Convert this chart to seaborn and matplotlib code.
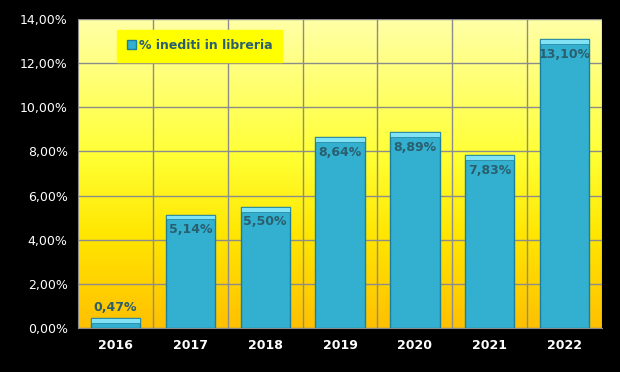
import numpy as np
import pandas as pd
import matplotlib
matplotlib.use("Agg")
import matplotlib.pyplot as plt
import seaborn as sns
from matplotlib.colors import LinearSegmentedColormap
from matplotlib.ticker import FuncFormatter, MultipleLocator

# === Dati ===
anni = ["2016", "2017", "2018", "2019", "2020", "2021", "2022"]
percentuali = [0.47, 5.14, 5.50, 8.64, 8.89, 7.83, 13.10]
etichette = ["0,47%", "5,14%", "5,50%", "8,64%", "8,89%", "7,83%", "13,10%"]
serie = "% inediti in libreria"

df = pd.DataFrame({"Anno": anni, "Valore": percentuali})

sns.set_style("white")
plt.rcParams["font.family"] = ["DejaVu Sans"]

fig = plt.figure(figsize=(6.2, 3.72), dpi=100, facecolor="black")
ax = fig.add_axes([0.126, 0.118, 0.845, 0.831])

# sfondo a gradiente (giallo chiaro -> giallo -> arancio)
cmap = LinearSegmentedColormap.from_list(
    "bg", [(0, "#FFC000"), (0.3, "#FFE600"), (0.55, "#FFFF33"), (1, "#FFFFA8")])
grad = np.linspace(0, 1, 256).reshape(-1, 1)
ax.imshow(grad, cmap=cmap, aspect="auto", origin="lower",
          extent=[0, 1, 0, 1], transform=ax.transAxes, zorder=0)

sns.barplot(data=df, x="Anno", y="Valore", color="#33AFD0", width=0.66,
            edgecolor="#1E7F9A", linewidth=1.0, saturation=1, ax=ax, zorder=3)

# bordo superiore più chiaro (effetto rilievo)
for p in ax.patches:
    h = min(0.22, p.get_height())
    ax.add_patch(plt.Rectangle((p.get_x(), p.get_height() - h), p.get_width(), h,
                               facecolor="#7FE3F5", edgecolor="#1E7F9A",
                               linewidth=0.5, zorder=4))

for i, (v, lab) in enumerate(zip(percentuali, etichette)):
    if v < 2:
        ax.text(i, v + 0.15, lab, ha="center", va="bottom", fontsize=9,
                fontweight="bold", color="#2A5F6E", zorder=5)
    else:
        ax.text(i, v - 0.4, lab, ha="center", va="top", fontsize=9,
                fontweight="bold", color="#2A5F6E", zorder=5)

ax.set_ylim(0, 14)
ax.set_xlim(-0.5, len(anni) - 0.5)
ax.yaxis.set_major_locator(MultipleLocator(2))
ax.yaxis.set_major_formatter(FuncFormatter(lambda y, _: f"{y:.2f}%".replace(".", ",")))
ax.set_xticks(np.arange(len(anni)) + 0.5, minor=True)
ax.grid(True, axis="y", color="#8C8C8C", linewidth=1, zorder=1)
ax.grid(True, axis="x", which="minor", color="#8C8C8C", linewidth=1, zorder=1)
ax.set_axisbelow(True)

ax.tick_params(axis="y", colors="white", labelsize=9, length=4, direction="out")
ax.tick_params(axis="x", which="major", colors="white", labelsize=9, length=0, pad=8)
ax.tick_params(axis="x", which="minor", length=5, color="#8C8C8C")
for t in ax.get_xticklabels():
    t.set_fontweight("bold")
ax.set_xlabel("")
ax.set_ylabel("")
for s in ax.spines.values():
    s.set_color("#8C8C8C")
ax.spines["top"].set_visible(False)
ax.spines["right"].set_visible(False)

# legenda
handle = plt.Rectangle((0, 0), 1, 1, facecolor="#33AFD0", edgecolor="#1E7F9A")
leg = ax.legend([handle], [serie], loc="upper left", bbox_to_anchor=(0.063, 0.985),
                frameon=True, fancybox=False, facecolor="#FFFF00", edgecolor="#FFFF00",
                handlelength=0.7, handleheight=0.7, handletextpad=0.3,
                prop={"weight": "bold", "size": 9}, borderpad=0.75)
leg.get_frame().set_alpha(1)
for t in leg.get_texts():
    t.set_color("#2A5F6E")

fig.savefig("out.png", dpi=100, facecolor="black")
